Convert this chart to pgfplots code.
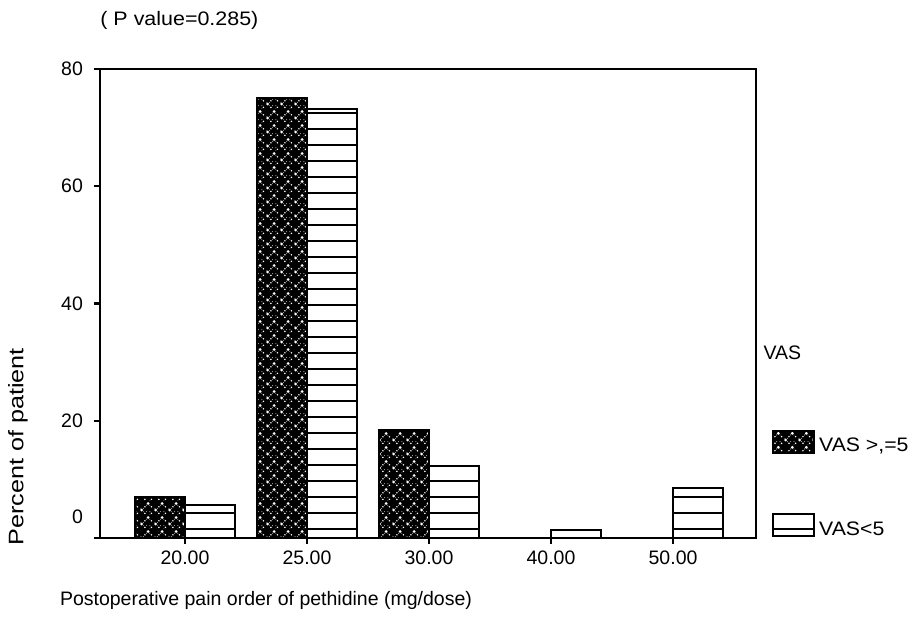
\documentclass[border=0pt]{standalone}
\usepackage{fontspec}
\setmainfont{Liberation Sans}
\usepackage{graphicx}
\usepackage{pgfplots}
\pgfplotsset{compat=1.18}
\usetikzlibrary{patterns.meta}

\tikzdeclarepattern{
  name=vasdots, type=uncolored,
  bounding box={(0pt,0pt) and (7pt,7pt)},
  tile size={(7pt,7pt)},
  code={
    \fill (0.875pt,2.625pt) circle (0.8pt);
    \fill (4.375pt,6.125pt) circle (0.8pt);
    \fill (2.625pt,4.375pt) circle (0.45pt);
    \fill (6.125pt,4.375pt) circle (0.45pt);
    \fill (2.625pt,0.875pt) circle (0.45pt);
    \fill (6.125pt,0.875pt) circle (0.45pt);
    \fill (1.75pt,3.5pt) circle (0.25pt);
    \fill (3.5pt,5.25pt) circle (0.25pt);
    \fill (5.25pt,5.25pt) circle (0.25pt);
    \fill (0pt,3.5pt) circle (0.25pt);
    \fill (1.75pt,1.75pt) circle (0.25pt);
    \fill (3.5pt,1.75pt) circle (0.25pt);
    \fill (5.25pt,1.75pt) circle (0.25pt);
    \fill (5.25pt,0pt) circle (0.25pt);
  }
}

\pgfplotsset{boxlegend/.style={legend image code/.code={\draw[##1] (0pt,-3pt) rectangle (20.5pt,8pt);}}}

\pgfplotstableread{
x y
0 7.0
1 75.0
2 18.4
}\darkdata
\pgfplotstableread{
x y
0 5.6
1 73.1
2 12.3
3 1.3
4 8.5
}\whitedata

\begin{document}
\begin{tikzpicture}
\path[use as bounding box] (-50pt,-51.5pt) rectangle (404.5pt,269pt);
\begin{axis}[
  scale only axis, width=328pt, height=234.5pt,
  xmin=-0.697, xmax=4.68, ymin=0, ymax=80,
  ybar, clip mode=individual,
  xtick={0,1,2,3,4}, xticklabels={20.00,25.00,30.00,40.00,50.00},
  ytick={20,40,60,80},
  extra y ticks={0}, extra y tick style={yticklabel style={yshift=10.5pt}},
  tick pos=left,
  tick align=outside, major tick length=3pt,
  tick style={line width=1.2pt, black},
  axis line style={line width=1pt},
  font=\fontsize{9.75}{11}\selectfont,
  /pgf/number format/assume math mode=true,
  yticklabel style={xshift=-2pt},
  xlabel={Postoperative pain order of pethidine (mg/dose)},
  every axis x label/.style={at={(rel axis cs:0.253,0)}, yshift=-31pt, anchor=center},
  ylabel={\scalebox{1.2}[1]{Percent of patient}},
  every axis y label/.style={at={(rel axis cs:0,0.194)}, xshift=-41pt, rotate=90, anchor=center, font=\fontsize{10.5}{12}\selectfont},
  legend style={at={(rel axis cs:1.024,0.232)}, anchor=north west, draw=none, fill=none,
    inner sep=0pt, row sep=27pt, cells={anchor=west}, font=\fontsize{9.75}{11}\selectfont},
]
\addplot[bar width=0.41, bar shift=-0.205, draw=black, line width=1pt, fill=black,
  postaction={pattern=vasdots, pattern color=white}, boxlegend]
  table[x=x,y=y] {\darkdata};
\addlegendentry{\scalebox{1.09}[1]{VAS >,=5}}
\addplot[bar width=0.41, bar shift=0.205, draw=black, line width=1pt, fill=white,
  postaction={pattern={Lines[angle=0,distance=8pt,line width=1pt]}, pattern color=black}, boxlegend]
  table[x=x,y=y] {\whitedata};
\addlegendentry{\scalebox{1.09}[1]{VAS<5}}
\node[anchor=west, inner sep=0pt, font=\fontsize{9.75}{11}\selectfont] at (rel axis cs:1.011,0.394) {VAS};
\node[anchor=base west, inner sep=0pt, font=\fontsize{9.75}{11}\selectfont, yshift=21.5pt] at (rel axis cs:0,1) {\scalebox{1.1}[1]{( P value=0.285)}};
\end{axis}
\end{tikzpicture}
\end{document}
